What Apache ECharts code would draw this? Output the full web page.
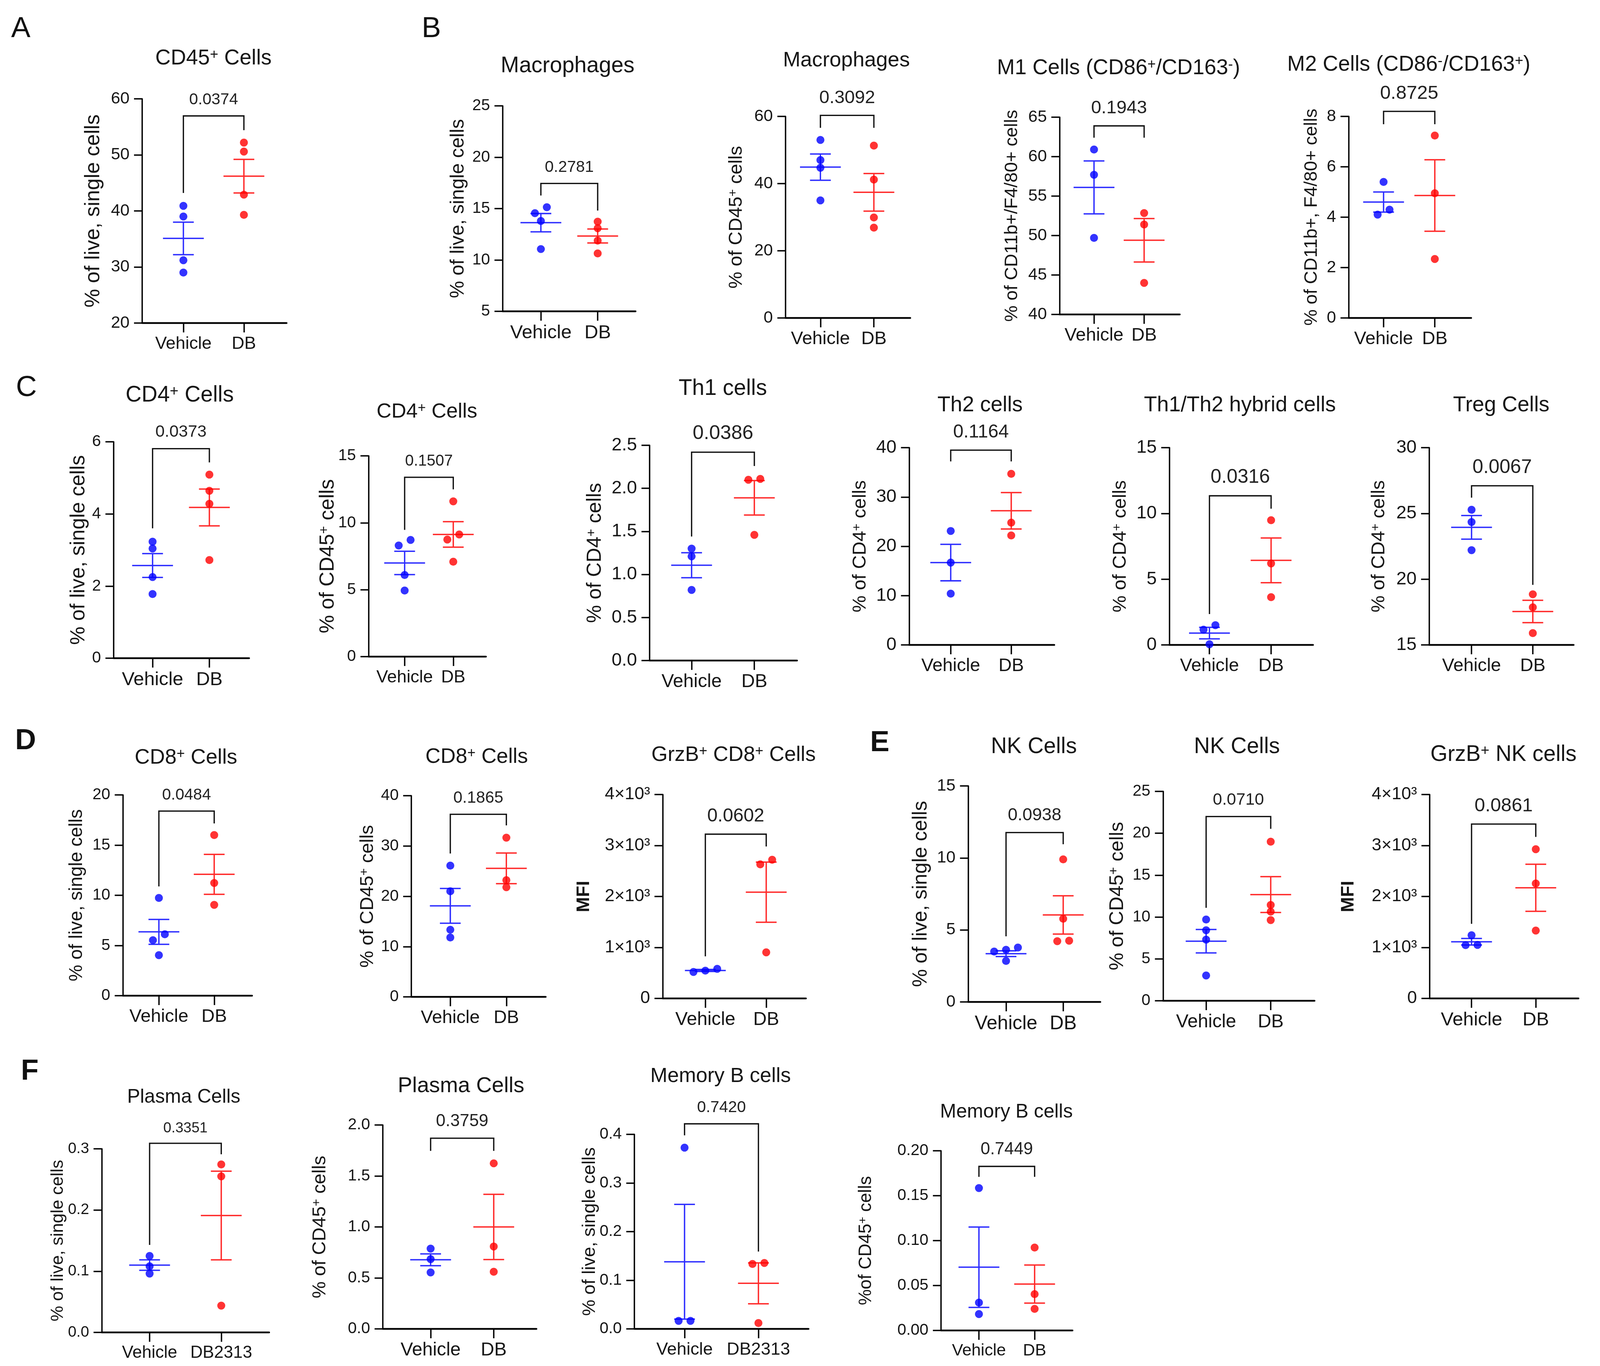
<!DOCTYPE html>
<html><head><meta charset="utf-8">
<script src="https://cdn.jsdelivr.net/npm/echarts@6/dist/echarts.min.js"></script>
<style>html,body{margin:0;padding:0;background:#fff;overflow:hidden}#c{position:absolute;left:0;top:0}</style>
</head><body><div id="c"></div>
<script>
// ---------------- DATA ----------------
const panelIds = ['A','B1','B2','B3','B4','C1','C2','C3','C4','C5','C6','D1','D2','D3','E1','E2','E3','F1','F2','F3','F4'];
const titles = ['CD45⁺ Cells','Macrophages','Macrophages','M1 Cells (CD86⁺/CD163⁻)','M2 Cells (CD86⁻/CD163⁺)',
  'CD4⁺ Cells','CD4⁺ Cells','Th1 cells','Th2 cells','Th1/Th2 hybrid cells','Treg Cells',
  'CD8⁺ Cells','CD8⁺ Cells','GrzB⁺ CD8⁺ Cells','NK Cells','NK Cells','GrzB⁺ NK cells',
  'Plasma Cells','Plasma Cells','Memory B cells','Memory B cells'];
const yNames = ['% of live, single cells','% of live, single cells','% of CD45⁺ cells','% of CD11b+/F4/80+ cells','% of CD11b+, F4/80+ cells',
  '% of live, single cells','% of CD45⁺ cells','% of CD4⁺ cells','% of CD4⁺ cells','% of CD4⁺ cells','% of CD4⁺ cells',
  '% of live, single cells','% of CD45⁺ cells','MFI','% of live, single cells','% of CD45⁺ cells','MFI',
  '% of live, single cells','% of CD45⁺ cells','% of live, single cells','%of CD45⁺ cells'];
const groupVehicle = 'Vehicle';
const groupTreated = ['DB','DB','DB','DB','DB','DB','DB','DB','DB','DB','DB','DB','DB','DB','DB','DB','DB','DB2313','DB','DB2313','DB'];

// y-axis tick ranges
const yMin  = [20,5,0,40,0, 0,0,0,0,0,15, 0,0,0,0,0,0, 0,0,0,0];
const yMax  = [60,25,60,65,8, 6,15,2.5,40,15,30, 20,40,4000,15,25,4000, 0.3,2,0.4,0.2];
const yStep = [10,5,20,5,2, 2,5,0.5,10,5,5, 5,10,1000,5,5,1000, 0.1,0.5,0.1,0.05];

// individual points
const A_vehicle  = [40.9, 39.0, 31.2, 29.0];      const A_db  = [52.2, 50.6, 42.9, 39.3];
const B1_vehicle = [15.13, 14.55, 13.79, 11.06];  const B1_db = [13.73, 13.09, 11.88, 10.64];
const B2_vehicle = [53.0, 47.0, 44.7, 35.0];      const B2_db = [51.3, 41.2, 29.9, 26.9];
const B3_vehicle = [60.9, 57.7, 49.7];            const B3_db = [52.85, 51.4, 44.0];
const B4_vehicle = [5.4, 4.3, 4.1];               const B4_db = [7.24, 4.95, 2.34];
const C1_vehicle = [3.23, 3.04, 2.25, 1.78];      const C1_db = [5.09, 4.64, 4.28, 2.72];
const C2_vehicle = [8.72, 8.3, 6.1, 4.94];        const C2_db = [11.6, 9.13, 8.75, 7.09];
const C3_vehicle = [1.30, 1.21, 0.82];            const C3_db = [2.11, 2.10, 1.46];
const C4_vehicle = [23.1, 16.7, 10.4];            const C4_db = [34.7, 24.8, 22.2];
const C5_vehicle = [1.5, 1.16, 0.05];             const C5_db = [9.48, 6.19, 3.63];
const C6_vehicle = [25.28, 24.34, 22.2];          const C6_db = [18.85, 17.86, 15.9];
const D1_vehicle = [9.74, 6.12, 5.53, 4.04];      const D1_db = [16.0, 11.23, 9.05];
const D2_vehicle = [26.1, 21.0, 13.35, 11.8];     const D2_db = [31.65, 23.2, 21.8];
const D3_vehicle = [580, 545, 520];               const D3_db = [2720, 2630, 905];
const E1_vehicle = [3.78, 3.62, 3.5, 2.85];       const E1_db = [9.9, 5.78, 4.25, 4.22];
const E2_vehicle = [9.7, 8.42, 7.3, 3.02];        const E2_db = [19.0, 11.44, 10.64, 9.63];
const E3_vehicle = [1240, 1050, 1045];            const E3_db = [2927, 2255, 1332];
const F1_vehicle = [0.125, 0.108, 0.096];         const F1_db = [0.2745, 0.255, 0.0437];
const F2_vehicle = [0.787, 0.684, 0.554];         const F2_db = [1.624, 0.808, 0.56];
const F3_vehicle = [0.3727, 0.0165, 0.0165];      const F3_db = [0.1356, 0.1335, 0.0121];
const F4_vehicle = [0.1585, 0.031, 0.0183];       const F4_db = [0.0923, 0.0404, 0.024];

const vehicleSets = [A_vehicle,B1_vehicle,B2_vehicle,B3_vehicle,B4_vehicle,C1_vehicle,C2_vehicle,C3_vehicle,C4_vehicle,C5_vehicle,C6_vehicle,
  D1_vehicle,D2_vehicle,D3_vehicle,E1_vehicle,E2_vehicle,E3_vehicle,F1_vehicle,F2_vehicle,F3_vehicle,F4_vehicle];
const dbSets = [A_db,B1_db,B2_db,B3_db,B4_db,C1_db,C2_db,C3_db,C4_db,C5_db,C6_db,
  D1_db,D2_db,D3_db,E1_db,E2_db,E3_db,F1_db,F2_db,F3_db,F4_db];

// mean +/- SEM as drawn
const vehicleMean = [35.1,13.63,44.9,56.1,4.6, 2.57,7.0,1.107,16.7,0.9,23.94, 6.36,18.1,548,3.35,7.11,1112, 0.11,0.678,0.138,0.0704];
const vehicleSEM  = [2.9,0.89,3.9,3.35,0.4, 0.33,0.87,0.145,3.7,0.44,0.9, 1.24,3.45,20,0.2,1.4,65, 0.0085,0.058,0.118,0.0447];
const dbMean      = [46.2,12.33,37.4,49.4,4.86, 4.18,9.13,1.89,27.2,6.43,17.54, 12.09,25.55,2085,6.04,12.68,2171, 0.191,1.0,0.0937,0.0516];
const dbSEM       = [3.0,0.68,5.6,2.75,1.42, 0.51,0.95,0.2,3.7,1.7,0.85, 1.99,3.05,590,1.33,2.14,462, 0.0725,0.32,0.042,0.0212];

// significance brackets (in data units) and p-values
const bracketTop   = [56.95,17.45,60.3,63.9,8.2, 5.81,13.4,2.42,39.5,11.34,27.1, 18.39,36.3,3222,11.76,22.0,3420, 0.309,1.87,0.4217,0.1826];
const bracketLeft  = [43.2,16.27,56.6,62.4,7.69, 3.6,9.47,1.44,37.2,2.35,26.2, 10.89,28.5,826,4.56,11.1,1464, 0.143,1.746,0.398,0.171];
const bracketRight = [54.4,14.81,56.6,62.4,7.69, 5.43,12.5,2.26,37.2,10.36,19.57, 17.16,34.1,2980,10.95,20.53,3169, 0.291,1.746,0.159,0.171];
const pValues = ['0.0374','0.2781','0.3092','0.1943','0.8725','0.0373','0.1507','0.0386','0.1164','0.0316','0.0067',
  '0.0484','0.1865','0.0602','0.0938','0.0710','0.0861','0.3351','0.3759','0.7420','0.7449'];

// ---------------- LAYOUT & STYLE (reference pixels, 4310 x 3497) ----------------
const axisLeft   = [383,1354,2116,2854,3633, 306,993,1750,2449,3150,3850, 331,1108,1785,2608,3133,3851, 274,1031,1709,2535];
const axisTop    = [253,271,298,300,298, 1131,1167,1140,1146,1146,1146, 2035,2037,2034,2012,2026,2034, 2941,2880,2904,2946];
const axisBottom = [827,797,814,805,814, 1685,1681,1691,1651,1651,1651, 2549,2552,2556,2565,2562,2556, 3411,3402,3402,3406];
const axisRight  = [772,1712,2452,3178,3963, 671,1309,2147,2840,3537,4239, 679,1470,2171,2964,3541,4252, 725,1445,2178,2889];
const tickVeh    = [494,1457,2210,2947,3727, 411,1090,1863,2561,3258,3964, 428,1213,1900,2710,3249,3964, 403,1160,1844,2637];
const tickDB     = [657,1610,2354,3082,3865, 564,1221,2032,2724,3424,4129, 577,1364,2064,2864,3423,4137, 596,1330,2043,2787];
const titleX     = [575,1529,2280,3013,3795, 484,1150,1947,2640,3340,4044, 501,1284,1976,2785,3332,4050, 495,1242,1941,2711];
const titleY     = [150,169,155,175,166, 1012,1054,995,1038,1038,1038, 1940,1938,1933,1912,1912,1932, 2809,2781,2755,2847];
const titleSize  = [56,58,55,56,56, 58,54,58,56,56,56, 55,55,55,58,58,58, 51,57,54,51];
const yNameDist  = [130,119,131,127,99, 93,109,146,131,131,134, 123,116,211,126,122,218, 117,168,119,201];
const yNameSize  = [55,51,50,48,48, 54,54,53,50,50,50, 49,50,48,53,52,48, 46,50,48,47];
const yTickSize  = [44,42,44,44,44, 42,42,48,48,48,48, 42,42,46,44,42,46, 40,42,42,42];
const xLabelSize = [46,50,48,48,48, 50,46,49,48,48,48, 48,48,49,51,49,50, 45,49,46,44];
const pSize      = [42,42,48,48,50, 44,41,52,49,51,51, 42,43,49,46,44,50, 38,45,42,45];
const yLabelDigits = [0,0,0,0,0, 0,0,1,0,0,0, 0,0,'sci',0,0,'sci', 1,1,1,2];
const letters = [['A',56,75,'normal'],['B',1162,75,'normal'],['C',71,994,'normal'],['D',69,1898,'bold'],['E',2370,1903,'bold'],['F',80,2744,'bold']];

// fit the 4310x3497 design into the actual viewport
const VW = window.innerWidth || 4310, VH = window.innerHeight || 3497;
const SX = VW / 4310, SY = VH / 3497, SF = Math.sqrt(SX * SY);
const X = v => v * SX, Y = v => v * SY, S = v => v * SF;
const el = document.getElementById('c');
el.style.width = VW + 'px'; el.style.height = VH + 'px';

const FONT = '"Liberation Sans", Arial, Helvetica, sans-serif';
const TXT = '#161616';
const BLUE = '#0000ff', BLUE_LINE = '#2e2eff', RED = '#ff0000', RED_LINE = '#ff2a2a';

function richify(str){
  let out = '', buf = '';
  for (const ch of str){
    if (ch === '⁺' || ch === '⁻'){
      if (buf){ out += '{n|' + buf + '}'; buf = ''; }
      out += '{s|' + (ch === '⁺' ? '+' : '-') + '}';
    } else buf += ch;
  }
  if (buf) out += '{n|' + buf + '}';
  return out;
}

// spread overlapping dots horizontally (dot-plot style)
function swarm(values, center, i){
  const pyu = (axisBottom[i] - axisTop[i]) / (yMax[i] - yMin[i]);
  const pxu = tickDB[i] - tickVeh[i];
  const idx = values.map((v, k) => k).sort((a, b) => values[b] - values[a]);
  const off = new Array(values.length).fill(0);
  let k = 0;
  while (k < idx.length){
    let j = k;
    while (j + 1 < idx.length && (values[idx[j]] - values[idx[j + 1]]) * pyu < 15.8) j++;
    const n = j - k + 1;
    for (let m = 0; m < n; m++) off[idx[k + m]] = ((n - 1) / 2 - m) * 32 / pxu;
    k = j + 1;
  }
  return values.map((v, m) => [center + off[m], v]);
}

function errItem(params, api){
  const x = api.value(0), m = api.value(1), s = api.value(2), g = api.value(3);
  const c = api.coord([x, m]), up = api.coord([x, m + s]), lo = api.coord([x, m - s]);
  const st = {stroke: g === 0 ? BLUE_LINE : RED_LINE, lineWidth: S(3.6), fill: 'none'};
  const hw = X(55), cw = X(28);
  return {type: 'group', children: [
    {type: 'line', shape: {x1: c[0] - hw, y1: c[1], x2: c[0] + hw, y2: c[1]}, style: st},
    {type: 'line', shape: {x1: up[0], y1: up[1], x2: lo[0], y2: lo[1]}, style: st},
    {type: 'line', shape: {x1: up[0] - cw, y1: up[1], x2: up[0] + cw, y2: up[1]}, style: st},
    {type: 'line', shape: {x1: lo[0] - cw, y1: lo[1], x2: lo[0] + cw, y2: lo[1]}, style: st}
  ]};
}

function bracketRender(i){
  return function(params, api){
    const t = api.value(1), l = api.value(2), r = api.value(3);
    const p0 = api.coord([0, l]), p1 = api.coord([0, t]), p2 = api.coord([1, t]), p3 = api.coord([1, r]);
    const fs = pSize[i];
    return {type: 'group', children: [
      {type: 'polyline', shape: {points: [p0, p1, p2, p3]}, style: {stroke: '#111', lineWidth: S(3.4), fill: 'none'}},
      {type: 'text', style: {text: pValues[i], x: (p1[0] + p2[0]) / 2, y: p1[1] - Y(15 + 0.62 * fs),
        align: 'center', verticalAlign: 'middle', textAlign: 'center', textVerticalAlign: 'middle',
        fontSize: S(fs), fontFamily: FONT, fill: '#222'}}
    ]};
  };
}

const grids = [], xAxes = [], yAxes = [], series = [], graphics = [];
panelIds.forEach((id, i) => {
  const span = tickDB[i] - tickVeh[i];
  grids.push({left: X(axisLeft[i]), top: Y(axisTop[i]), width: X(axisRight[i] - axisLeft[i]), height: Y(axisBottom[i] - axisTop[i]),
    containLabel: false, outerBoundsMode: 'none'});
  const xLabels = [groupVehicle, groupTreated[i]];
  xAxes.push({type: 'value', gridIndex: i,
    min: -(tickVeh[i] - axisLeft[i]) / span, max: 1 + (axisRight[i] - tickDB[i]) / span,
    axisLine: {show: true, onZero: false, lineStyle: {color: '#000', width: S(4.6)}},
    axisTick: {show: true, customValues: [0, 1], length: Y(24), lineStyle: {color: '#000', width: S(3.6)}},
    axisLabel: {show: true, customValues: [0, 1], formatter: v => xLabels[Math.round(v)], fontSize: S(xLabelSize[i]), margin: Y(31), color: TXT, fontFamily: FONT},
    splitLine: {show: false}});
  const dig = yLabelDigits[i];
  const isMFI = yNames[i] === 'MFI';
  const ns = yNameSize[i];
  yAxes.push({type: 'value', gridIndex: i, min: yMin[i], max: yMax[i], interval: yStep[i],
    axisLine: {show: true, onZero: false, lineStyle: {color: '#000', width: S(3.6)}},
    axisTick: {show: true, length: X(22), lineStyle: {color: '#000', width: S(3.6)}},
    axisLabel: {show: true, fontSize: S(yTickSize[i]), margin: X(34), color: TXT, fontFamily: FONT,
      formatter: v => dig === 'sci' ? (v === 0 ? '0' : Math.round(v / 1000) + '×10³') : v.toFixed(dig)},
    splitLine: {show: false},
    name: richify(yNames[i]), nameLocation: 'middle', nameRotate: 90, nameGap: X(yNameDist[i] - ns / 2), nameMoveOverlap: false,
    nameTextStyle: {rich: {
      n: {fontSize: S(ns), fontWeight: isMFI ? 'bold' : 'normal', fontFamily: FONT, color: TXT},
      s: {fontSize: S(ns * 0.66), fontFamily: FONT, color: TXT, verticalAlign: 'top'}
    }}});
  series.push({type: 'custom', xAxisIndex: i, yAxisIndex: i, clip: false, z: 2, silent: true,
    renderItem: errItem, data: [[0, vehicleMean[i], vehicleSEM[i], 0], [1, dbMean[i], dbSEM[i], 1]]});
  series.push({type: 'scatter', xAxisIndex: i, yAxisIndex: i, clip: false, z: 3, symbol: 'circle', symbolSize: S(21),
    itemStyle: {color: BLUE}, data: swarm(vehicleSets[i], 0, i), silent: true});
  series.push({type: 'scatter', xAxisIndex: i, yAxisIndex: i, clip: false, z: 3, symbol: 'circle', symbolSize: S(21),
    itemStyle: {color: RED}, data: swarm(dbSets[i], 1, i), silent: true});
  series.push({type: 'custom', xAxisIndex: i, yAxisIndex: i, clip: false, z: 4, silent: true,
    renderItem: bracketRender(i), data: [[0.5, bracketTop[i], bracketLeft[i], bracketRight[i]]]});
  const fs = S(titleSize[i]);
  graphics.push({type: 'text', x: X(titleX[i]), y: Y(titleY[i]), silent: true, style: {
    text: richify(titles[i]), align: 'center', verticalAlign: 'middle', textAlign: 'center', textVerticalAlign: 'middle',
    rich: {n: {fontSize: fs, fontFamily: FONT, fill: TXT, color: TXT},
           s: {fontSize: fs * 0.68, fontFamily: FONT, fill: TXT, color: TXT, verticalAlign: 'top'}}}});
});
letters.forEach(([t, x, y, w]) => {
  graphics.push({type: 'text', x: X(x), y: Y(y), silent: true, style: {text: t, fontSize: S(76), fontWeight: w, fontFamily: FONT,
    fill: '#111', align: 'center', verticalAlign: 'middle', textAlign: 'center', textVerticalAlign: 'middle'}});
});

const chart = echarts.init(el, null, {renderer: 'canvas', width: VW, height: VH});
chart.setOption({
  backgroundColor: '#ffffff',
  animation: false,
  grid: grids, xAxis: xAxes, yAxis: yAxes, series: series, graphic: graphics
});
</script></body></html>
